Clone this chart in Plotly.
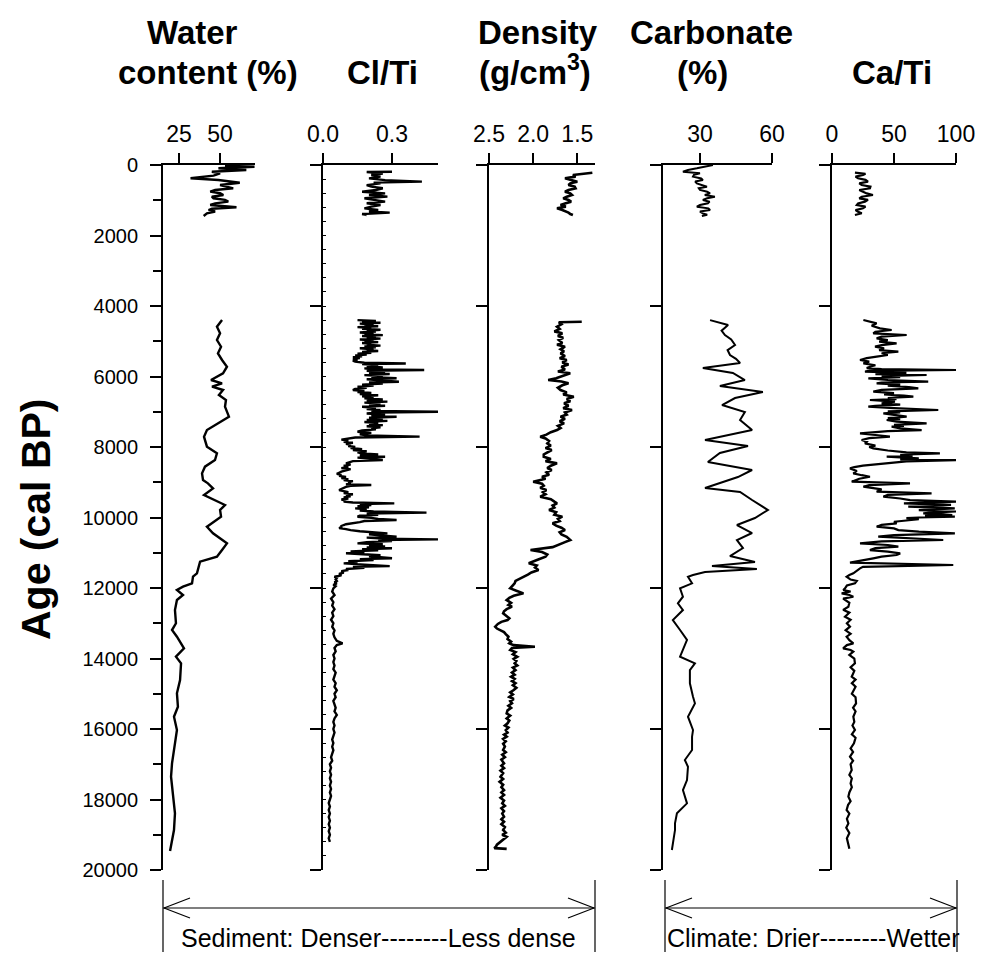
import plotly.graph_objects as go

W, H = 981, 954
FONT = "Liberation Sans, Arial, sans-serif"

# ---------------- data (age in cal BP, proxy value) ----------------
water_top_age = [20, 50, 94, 142, 190, 235, 300, 377, 426, 502, 567, 620, 661, 710, 757,
                 800, 851, 900, 945, 990, 1040, 1090, 1135, 1200, 1240, 1277, 1320, 1370, 1447]
water_top_val = [53, 71, 49, 66, 45, 50, 46, 32, 49, 62, 50, 55, 58, 47, 44,
                 50, 52, 45, 46, 53, 55, 47, 44, 60, 45, 43, 47, 42, 40]
water_age = [4397, 4587, 4775, 4965, 5155, 5343, 5532, 5722, 5910, 6100, 6194, 6290, 6383,
             6525, 6667, 6857, 7140, 7329, 7518, 7708, 7991, 8180, 8369, 8558, 8748, 8937,
             9031, 9173, 9268, 9362, 9646, 9788, 9977, 10261, 10449, 10733, 10922, 11112,
             11254, 11490, 11584, 11679, 11868, 11963, 12057, 12199, 12341, 12625, 13002,
             13192, 13382, 13712, 13949, 14137, 14611, 14988, 15368, 15651, 16029, 16407,
             16974, 17354, 17921, 18392, 18866, 19462]
water_val = [51.2, 48.1, 50.0, 48.1, 50.6, 48.7, 51.2, 54.2, 51.8, 44.5, 51.2, 45.1, 51.8,
             49.3, 53.6, 53.0, 55.4, 48.7, 42.0, 40.2, 42.0, 48.1, 46.9, 40.8, 39.0, 39.6,
             42.6, 45.7, 42.6, 40.2, 53.0, 50.0, 50.6, 42.0, 45.7, 54.2, 51.2, 48.1,
             37.8, 36.5, 35.9, 33.5, 32.9, 27.4, 23.7, 27.4, 23.7, 22.5, 23.1,
             20.7, 23.7, 28.0, 23.1, 26.2, 25.6, 23.7, 24.3, 21.9, 23.7, 22.5,
             20.7, 20.1, 21.3, 22.5, 21.9, 19.5]

clti_top_age = [190, 200, 240, 284, 330, 378, 430, 473, 500, 520, 570, 615, 660, 709, 760,
                804, 850, 898, 945, 993, 1040, 1087, 1135, 1182, 1230, 1277, 1320, 1352, 1390, 1419]
clti_top_val = [0.30, 0.19, 0.26, 0.21, 0.25, 0.20, 0.27, 0.43, 0.22, 0.25, 0.19, 0.21, 0.26, 0.23, 0.17,
                0.27, 0.20, 0.28, 0.18, 0.22, 0.27, 0.19, 0.25, 0.21, 0.18, 0.24, 0.20, 0.29, 0.17, 0.19]
clti_age = [
    4400, 4425, 4450, 4475, 4500, 4525, 4550, 4575, 4600, 4625, 4650, 4675, 4700, 4725, 4750,
    4775, 4800, 4825, 4850, 4875, 4900, 4925, 4950, 4975, 5000, 5025, 5050, 5075, 5100, 5125,
    5150, 5175, 5200, 5225, 5250, 5275, 5300, 5325, 5350, 5375, 5400, 5425, 5450, 5475, 5500,
    5525, 5550, 5580, 5610, 5630, 5650, 5680, 5710, 5740, 5770, 5800, 5816, 5840, 5870, 5900,
    5930, 5960, 5990, 6020, 6050, 6080, 6110, 6147, 6170, 6200, 6230, 6260, 6290, 6320, 6350,
    6383, 6410, 6440, 6470, 6500, 6530, 6560, 6590, 6620, 6650, 6680, 6714, 6740, 6770, 6800,
    6830, 6860, 6890, 6920, 6950, 6975, 6998, 7020, 7050, 7080, 7110, 7140, 7170, 7200, 7230,
    7260, 7290, 7320, 7350, 7380, 7410, 7440, 7470, 7500, 7530, 7566, 7600, 7640, 7670, 7707,
    7730, 7760, 7790, 7820, 7850, 7880, 7910, 7940, 7970, 8000, 8030, 8060, 8090, 8120, 8150,
    8180, 8210, 8240, 8275, 8300, 8330, 8369, 8400, 8430, 8463, 8500, 8530, 8560, 8600, 8630,
    8660, 8700, 8730, 8760, 8790, 8820, 8850, 8880, 8910, 8940, 8970, 9000, 9031, 9060, 9080,
    9100, 9130, 9160, 9190, 9220, 9250, 9280, 9310, 9340, 9370, 9400, 9430, 9460, 9490, 9520,
    9550, 9575, 9600, 9620, 9650, 9680, 9710, 9740, 9770, 9800, 9830, 9863, 9890, 9920, 9950,
    9977, 10010, 10040, 10071, 10100, 10130, 10160, 10190, 10213, 10240, 10270, 10300, 10330,
    10360, 10390, 10420, 10450, 10480, 10510, 10545, 10570, 10600, 10620, 10640, 10670, 10700,
    10733, 10760, 10790, 10820, 10850, 10874, 10900, 10930, 10960, 10990, 11016, 11040, 11070,
    11100, 11130, 11158, 11180, 11210, 11240, 11270, 11300, 11320, 11350, 11380, 11400, 11430,
    11460, 11490, 11520, 11560, 11600, 11640, 11680, 11720, 11760, 11800, 11840, 11868, 11910,
    11950, 12010, 12100, 12200, 12300, 12400, 12500, 12600, 12700, 12800, 12900, 13000, 13100,
    13200, 13300, 13400, 13500, 13570, 13620, 13700, 13800, 13900, 14000, 14100, 14200, 14300,
    14400, 14500, 14600, 14700, 14800, 14900, 15000, 15100, 15200, 15300, 15400, 15500, 15600,
    15700, 15800, 15900, 16000, 16100, 16200, 16300, 16400, 16500, 16600, 16700, 16800, 16900,
    17000, 17100, 17200, 17300, 17400, 17500, 17600, 17700, 17800, 17900, 18000, 18100, 18200,
    18300, 18400, 18500, 18600, 18700, 18800, 18900, 19000, 19100, 19200, 19300, 19400]
clti_val = [
    0.15, 0.23, 0.17, 0.25, 0.16, 0.22, 0.18, 0.24, 0.15, 0.21, 0.17, 0.25, 0.19, 0.23, 0.16,
    0.22, 0.18, 0.26, 0.17, 0.23, 0.19, 0.25, 0.16, 0.22, 0.18, 0.24, 0.17, 0.21, 0.19, 0.25,
    0.18, 0.23, 0.16, 0.22, 0.19, 0.24, 0.17, 0.21, 0.15, 0.19, 0.14, 0.17, 0.13, 0.16, 0.13,
    0.15, 0.13, 0.14, 0.18, 0.36, 0.17, 0.24, 0.19, 0.26, 0.18, 0.22, 0.44, 0.19, 0.27, 0.20,
    0.29, 0.18, 0.26, 0.21, 0.32, 0.19, 0.25, 0.33, 0.20, 0.26, 0.17, 0.22, 0.15, 0.19, 0.14,
    0.13, 0.18, 0.15, 0.21, 0.16, 0.24, 0.17, 0.22, 0.18, 0.26, 0.19, 0.28, 0.18, 0.25, 0.20,
    0.27, 0.17, 0.23, 0.19, 0.25, 0.21, 0.50, 0.24, 0.19, 0.27, 0.21, 0.32, 0.20, 0.26, 0.19,
    0.28, 0.18, 0.24, 0.20, 0.26, 0.19, 0.25, 0.21, 0.23, 0.17, 0.15, 0.21, 0.16, 0.19, 0.42,
    0.14, 0.10, 0.08, 0.11, 0.09, 0.13, 0.10, 0.12, 0.11, 0.14, 0.12, 0.17, 0.13, 0.19, 0.15,
    0.17, 0.24, 0.16, 0.27, 0.15, 0.20, 0.26, 0.13, 0.11, 0.10, 0.12, 0.09, 0.11, 0.08, 0.12,
    0.10, 0.08, 0.07, 0.06, 0.08, 0.07, 0.10, 0.08, 0.11, 0.09, 0.13, 0.11, 0.12, 0.10, 0.21,
    0.12, 0.10, 0.09, 0.08, 0.07, 0.09, 0.11, 0.09, 0.13, 0.10, 0.12, 0.09, 0.11, 0.08, 0.10,
    0.09, 0.13, 0.31, 0.16, 0.21, 0.15, 0.20, 0.14, 0.19, 0.16, 0.22, 0.45, 0.19, 0.24, 0.16,
    0.15, 0.21, 0.24, 0.32, 0.18, 0.16, 0.12, 0.10, 0.09, 0.08, 0.08, 0.07, 0.10,
    0.12, 0.16, 0.22, 0.28, 0.20, 0.26, 0.32, 0.19, 0.26, 0.50, 0.24, 0.30, 0.19,
    0.15, 0.26, 0.20, 0.27, 0.19, 0.30, 0.17, 0.24, 0.12, 0.18, 0.10, 0.17, 0.25,
    0.20, 0.28, 0.30, 0.16, 0.22, 0.11, 0.15, 0.09, 0.14, 0.22, 0.29, 0.13, 0.18,
    0.10, 0.11, 0.08, 0.09, 0.07, 0.08, 0.05, 0.06, 0.055, 0.06, 0.05, 0.06, 0.045,
    0.055, 0.045, 0.04, 0.05, 0.035, 0.045, 0.04, 0.05, 0.04, 0.045, 0.035, 0.045, 0.04,
    0.05, 0.045, 0.05, 0.06, 0.085, 0.06, 0.05, 0.055, 0.045, 0.05, 0.045, 0.05, 0.045,
    0.055, 0.05, 0.045, 0.055, 0.05, 0.06, 0.05, 0.055, 0.045, 0.05, 0.055, 0.05, 0.06,
    0.05, 0.045, 0.05, 0.045, 0.05, 0.045, 0.04, 0.045, 0.04, 0.045, 0.04, 0.035, 0.04,
    0.03, 0.035, 0.03, 0.035, 0.03, 0.035, 0.03, 0.035, 0.03, 0.035, 0.03, 0.025, 0.03,
    0.025, 0.03, 0.025, 0.03, 0.025, 0.03, 0.025, 0.03, 0.025, 0.03]

dens_top_age = [218, 260, 284, 330, 378, 430, 473, 520, 567, 615, 662, 710, 757, 805, 851,
                900, 946, 990, 1040, 1090, 1135, 1180, 1229, 1277, 1320, 1352, 1390, 1419]
dens_top_val = [1.33, 1.46, 1.55, 1.52, 1.64, 1.56, 1.50, 1.58, 1.60, 1.53, 1.52, 1.60, 1.64, 1.58, 1.56,
                1.62, 1.66, 1.60, 1.57, 1.64, 1.69, 1.63, 1.73, 1.67, 1.62, 1.60, 1.58, 1.55]
dens_age = [4445, 4460, 4520, 4587, 4650, 4720, 4776, 4850, 4900, 4965, 5050, 5100, 5154, 5230,
            5290, 5343, 5420, 5480, 5532, 5600, 5660, 5721, 5800, 5860, 5910, 5980, 6050, 6100,
            6140, 6193, 6250, 6320, 6383, 6450, 6510, 6572, 6640, 6700, 6761, 6830, 6900, 6951,
            7020, 7080, 7140, 7200, 7270, 7329, 7400, 7460, 7518, 7580, 7650, 7707, 7760, 7830,
            7896, 7960, 8030, 8085, 8150, 8210, 8275, 8340, 8400, 8464, 8530, 8600, 8653, 8720,
            8790, 8842, 8900, 8950, 8984, 9040, 9100, 9160, 9220, 9280, 9340, 9411, 9480, 9550,
            9599, 9660, 9720, 9788, 9850, 9920, 9977, 10040, 10100, 10166, 10230, 10290, 10355,
            10420, 10480, 10550, 10639, 10700, 10781, 10840, 10922, 10980, 11050, 11112, 11200,
            11300, 11360, 11420, 11490, 11560, 11620, 11679, 11750, 11800, 11868, 11940, 12010,
            12080, 12152, 12220, 12280, 12341, 12420, 12480, 12530, 12600, 12660, 12719, 12800,
            12860, 12908, 12960, 13020, 13098, 13150, 13192, 13250, 13310, 13382, 13450, 13520,
            13570, 13620, 13665, 13700, 13759, 13820, 13880, 13949, 14010, 14070, 14137, 14200,
            14260, 14330, 14400, 14460, 14517, 14580, 14640, 14700, 14760, 14830, 14894, 14960,
            15020, 15090, 15150, 15210, 15272, 15340, 15400, 15470, 15556, 15620, 15700, 15760,
            15839, 15900, 15960, 16030, 16100, 16160, 16219, 16280, 16350, 16420, 16500, 16596,
            16660, 16730, 16800, 16870, 16974, 17040, 17110, 17180, 17250, 17354, 17420, 17500,
            17580, 17650, 17732, 17800, 17870, 17950, 18030, 18109, 18180, 18250, 18330, 18400,
            18488, 18560, 18630, 18700, 18780, 18866, 18940, 19000, 19060, 19120, 19200, 19280,
            19330, 19380, 19400]
dens_val = [1.45, 1.71, 1.68, 1.73, 1.70, 1.76, 1.67, 1.72, 1.66, 1.71, 1.67, 1.73, 1.64, 1.69,
            1.65, 1.69, 1.64, 1.70, 1.62, 1.67, 1.60, 1.68, 1.64, 1.72, 1.58, 1.66, 1.74, 1.83,
            1.68, 1.60, 1.67, 1.72, 1.69, 1.62, 1.66, 1.54, 1.62, 1.58, 1.65, 1.60, 1.66, 1.56,
            1.64, 1.62, 1.69, 1.64, 1.70, 1.65, 1.72, 1.69, 1.73, 1.80, 1.85, 1.92, 1.86, 1.82,
            1.84, 1.80, 1.86, 1.79, 1.84, 1.88, 1.88, 1.80, 1.86, 1.73, 1.80, 1.84, 1.79, 1.85,
            1.82, 1.90, 1.86, 1.94, 2.00, 1.90, 1.88, 1.92, 1.85, 1.89, 1.86, 1.92, 1.80, 1.76,
            1.73, 1.78, 1.76, 1.82, 1.74, 1.76, 1.67, 1.72, 1.70, 1.78, 1.74, 1.68, 1.64,
            1.70, 1.68, 1.62, 1.58, 1.64, 1.71, 1.78, 2.03, 1.90, 1.84, 1.86, 1.95,
            2.05, 1.96, 1.98, 1.94, 2.02, 2.06, 2.11, 2.16, 2.20, 2.21, 2.24, 2.26,
            2.19, 2.11, 2.22, 2.27, 2.30, 2.25, 2.28, 2.24, 2.30, 2.33, 2.34, 2.30,
            2.27, 2.29, 2.36, 2.40, 2.43, 2.41, 2.38, 2.33, 2.31, 2.28, 2.29, 2.25,
            2.27, 2.22, 1.98, 2.24, 2.26, 2.20, 2.23, 2.18, 2.22, 2.19, 2.21, 2.18,
            2.23, 2.20, 2.24, 2.21, 2.25, 2.21, 2.24, 2.20, 2.23, 2.19, 2.22, 2.26,
            2.23, 2.27, 2.22, 2.26, 2.24, 2.28, 2.25, 2.29, 2.30, 2.26, 2.30, 2.27,
            2.29, 2.32, 2.28, 2.31, 2.29, 2.33, 2.30, 2.34, 2.31, 2.34, 2.32, 2.34,
            2.31, 2.35, 2.32, 2.36, 2.33, 2.36, 2.33, 2.37, 2.34, 2.37, 2.34, 2.38,
            2.34, 2.36, 2.33, 2.36, 2.33, 2.37, 2.33, 2.35, 2.32, 2.36, 2.33, 2.35,
            2.33, 2.36, 2.33, 2.36, 2.32, 2.34, 2.31, 2.35, 2.30, 2.33, 2.37, 2.41,
            2.42, 2.44, 2.30]

carb_top_age = [0, 50, 95, 140, 189, 236, 280, 331, 380, 426, 470, 520, 570, 615, 660, 709,
                760, 804, 850, 898, 945, 993, 1040, 1087, 1135, 1182, 1230, 1277, 1320, 1371, 1410, 1447]
carb_top_val = [35.4, 31.0, 28.7, 25.0, 22.9, 30.0, 27.5, 27.1, 30.5, 31.2, 28.0, 28.7, 31.5, 32.9, 29.5, 30.0,
                33.0, 34.2, 32.0, 36.2, 33.0, 31.2, 34.0, 33.3, 30.0, 28.7, 33.5, 34.2, 30.0, 31.2, 33.0, 30.8]
carb_age = [4400, 4539, 4700, 4823, 4950, 5107, 5250, 5390, 5500, 5617, 5759, 5901, 6100, 6270,
            6440, 6610, 6809, 7007, 7234, 7518, 7802, 7972, 8171, 8426, 8653, 8852, 9164, 9277,
            9504, 9788, 10015, 10214, 10440, 10639, 10866, 11093, 11263, 11376, 11461, 11546,
            11631, 11679, 11868, 12010, 12247, 12435, 12625, 12908, 13192, 13475, 13949, 14137,
            14327, 14704, 15084, 15272, 15651, 16029, 16219, 16596, 16880, 17070, 17448, 17732,
            18109, 18392, 18676, 18866, 19433]
carb_val = [34.2, 41.7, 39.0, 40.4, 43.0, 44.6, 41.5, 42.5, 45.0, 46.7, 31.2, 43.7, 48.7, 38.3,
            56.2, 44.6, 39.2, 48.7, 46.7, 51.7, 32.1, 50.0, 38.3, 33.3, 51.7, 45.8, 32.1, 46.7,
            51.7, 58.3, 52.9, 45.4, 51.7, 45.4, 47.9, 42.5, 52.9, 35.0, 53.7, 32.1,
            27.1, 25.0, 26.7, 21.7, 22.9, 20.8, 22.9, 18.7, 21.7, 24.6, 21.7, 27.9,
            25.8, 25.8, 27.1, 27.9, 25.0, 27.1, 26.7, 26.7, 23.7, 25.0, 24.6, 22.9,
            24.6, 20.4, 19.6, 19.6, 18.3]

cati_top_age = [218, 250, 284, 330, 378, 420, 473, 520, 567, 615, 662, 710, 757, 805, 851,
                900, 946, 990, 1040, 1090, 1135, 1180, 1229, 1280, 1324, 1370, 1419]
cati_top_val = [18.5, 27, 25, 19, 21, 27, 29, 22, 24, 31, 30.6, 22, 25, 28, 33,
                24, 22, 29, 26.6, 21, 20, 27, 25, 19, 21, 24, 18.5]
cati_age = [
    4398, 4440, 4492, 4560, 4634, 4681, 4730, 4776, 4823, 4870, 4918, 4970, 5010, 5060, 5110,
    5154, 5200, 5250, 5296, 5340, 5390, 5438, 5480, 5533, 5580, 5627, 5680, 5722, 5760, 5790,
    5816, 5840, 5864, 5900, 5930, 5958, 5990, 6020, 6053, 6100, 6147, 6170, 6194, 6230, 6260,
    6300, 6336, 6380, 6431, 6470, 6510, 6540, 6573, 6610, 6640, 6667, 6715, 6760, 6800, 6830,
    6857, 6900, 6951, 6990, 7020, 7046, 7090, 7140, 7180, 7210, 7235, 7280, 7329, 7370, 7400,
    7424, 7470, 7519, 7550, 7580, 7613, 7660, 7708, 7750, 7802, 7850, 7897, 7960, 8000, 8039,
    8100, 8150, 8181, 8220, 8250, 8275, 8320, 8350, 8370, 8410, 8440, 8464, 8530, 8570, 8606,
    8680, 8748, 8800, 8843, 8900, 8950, 8984, 9032, 9080, 9126, 9200, 9268, 9315, 9360, 9410,
    9460, 9505, 9552, 9600, 9640, 9670, 9694, 9720, 9740, 9788, 9810, 9830, 9860, 9883, 9910,
    9930, 9955, 9977, 10000, 10020, 10050, 10072, 10120, 10167, 10210, 10261, 10310, 10356,
    10400, 10450, 10500, 10545, 10590, 10639, 10680, 10734, 10780, 10828, 10870, 10923, 10970,
    11020, 11065, 11110, 11159, 11220, 11282, 11348, 11400, 11443, 11510, 11585, 11630, 11680,
    11760, 11800, 11869, 11930, 12011, 12057, 12100, 12152, 12200, 12247, 12300, 12341, 12420,
    12530, 12620, 12700, 12814, 12900, 13000, 13098, 13200, 13300, 13381, 13480, 13570, 13620,
    13712, 13760, 13807, 13900, 14000, 14138, 14250, 14350, 14516, 14600, 14700, 14800, 14894,
    15000, 15100, 15273, 15400, 15500, 15651, 15800, 15900, 16029, 16150, 16250, 16408, 16550,
    16650, 16786, 16900, 17000, 17164, 17300, 17400, 17542, 17650, 17800, 17921, 18050, 18150,
    18299, 18400, 18550, 18677, 18800, 18950, 19100, 19250, 19400]
cati_val = [
    25.3, 30, 36.0, 32, 38.7, 48.1, 35, 33.3, 60.2, 40, 36.0, 45, 38, 52.1, 40,
    34.7, 42, 38, 53.5, 40, 45, 36.0, 28, 22.6, 30, 25.3, 35, 30.6, 28, 40,
    100, 30, 26.6, 60, 35, 76.3, 40, 55, 29.3, 45, 77.6, 40, 36.0, 55, 45,
    62, 69.6, 40, 33.3, 50, 42, 58, 65.6, 45, 52, 30.6, 50.8, 40, 55, 35,
    29.3, 50, 85.7, 45, 55, 41.4, 50, 60.2, 45, 55, 44.1, 52, 76.3, 50, 58,
    48.1, 55, 72.3, 45, 30, 22.6, 35, 46.7, 30, 23.9, 28, 26.6, 35, 30, 33.3,
    45, 60, 87.0, 55, 65, 44.1, 70, 55, 100, 60, 50, 45.4, 25, 18, 14.5,
    20, 17.2, 24, 30.6, 22, 18, 15.9, 62.9, 30, 25.3, 40, 36.0, 80.3, 45, 41.4,
    55, 62.9, 100, 58, 96, 65, 61.5, 85, 99, 70, 95, 100, 80, 73.6, 90,
    97, 75, 99.1, 70, 60, 70, 62.9, 50, 52.1, 40, 36.0, 50, 53.5,
    70, 99.1, 50, 37.3, 60, 89.7, 40, 22.6, 45, 53.5, 35, 30.6, 45,
    55, 52.1, 40, 33.3, 25, 14.5, 97.8, 25, 22.6, 20, 17.2, 14, 11.8,
    15, 20, 18.5, 12, 10.5, 9.1, 15, 7.8, 14, 17.2, 9, 10.5, 14,
    13.2, 9, 14, 10.5, 15, 12, 14.5, 11, 15, 11.8, 14, 17.2, 12,
    9.0, 15, 17.2, 14, 18, 18.5, 15, 18, 15.9, 19, 16, 19, 17.7,
    16, 19, 19.4, 17, 19, 17.2, 18, 16.5, 18.5, 16, 19, 17.7, 15,
    17, 14.5, 17, 15, 15.9, 14, 16, 15.0, 16, 14, 13.2, 15, 13,
    11.8, 14, 12, 13.2, 11.5, 14, 12, 13, 14]


def join(*segments):
    """Concatenate depth segments, leaving a gap (None) between them."""
    out = []
    for i, s in enumerate(segments):
        if i:
            out.append(None)
        out.extend(s)
    return out


panels = [
    dict(x=join(water_top_val, water_val), y=join(water_top_age, water_age), lw=2.4,
         px=(163, 255), rng=[15.2, 71.3], ticks=[25, 50], labels=["25", "50"]),
    dict(x=join(clti_top_val, clti_val), y=join(clti_top_age, clti_age), lw=2.4,
         px=(323, 438), rng=[0, 0.5], ticks=[0, 0.3], labels=["0.0", "0.3"]),
    dict(x=join(dens_top_val, dens_val), y=join(dens_top_age, dens_age), lw=2.6,
         px=(489, 595), rng=[2.5, 1.3], ticks=[2.5, 2.0, 1.5], labels=["2.5", "2.0", "1.5"]),
    dict(x=join(carb_top_val, carb_val), y=join(carb_top_age, carb_age), lw=2.0,
         px=(663, 772), rng=[14.6, 60], ticks=[30, 60], labels=["30", "60"]),
    dict(x=join(cati_top_val, cati_val), y=join(cati_top_age, cati_age), lw=2.2,
         px=(832, 956), rng=[0, 100], ticks=[0, 50, 100], labels=["0", "50", "100"]),
]

Y_TOP, Y_BOT = 165, 870
ydom = [1 - Y_BOT / H, 1 - Y_TOP / H]

fig = go.Figure()
layout = {}
for i, p in enumerate(panels, start=1):
    xs = "" if i == 1 else str(i)
    xb = str(i + 5)
    ys = "" if i == 1 else str(i)
    fig.add_trace(go.Scatter(
        x=p["x"], y=p["y"], mode="lines", connectgaps=False,
        line=dict(color="black", width=p["lw"]), xaxis="x" + xs, yaxis="y" + ys,
        showlegend=False, hoverinfo="skip"))
    common = dict(range=p["rng"], showgrid=False, zeroline=False, showline=True,
                  linecolor="black", linewidth=1.8, tickcolor="black", tickwidth=1.6,
                  ticklen=10, tickmode="array", tickvals=p["ticks"], fixedrange=True,
                  automargin=False)
    layout["xaxis" + xs] = dict(common, domain=[p["px"][0] / W, p["px"][1] / W],
                                anchor="y" + ys, side="top", ticks="outside",
                                ticktext=p["labels"], ticklabelstandoff=2,
                                tickfont=dict(family=FONT, size=23, color="black"))
    layout["xaxis" + xb] = dict(common, overlaying="x" + xs, anchor="y" + ys,
                                side="bottom", ticks="inside", showticklabels=False)
    yax = dict(domain=ydom, range=[20000, 0], anchor="x" + xs, showgrid=False,
               zeroline=False, showline=True, linecolor="black", linewidth=1.8,
               ticks="outside", ticklen=11, tickwidth=1.6, tickcolor="black",
               fixedrange=True, automargin=False)
    if i == 1:
        yax.update(tickmode="array", tickvals=list(range(0, 20001, 2000)),
                   ticktext=[str(v) for v in range(0, 20001, 2000)],
                   tickfont=dict(family=FONT, size=20, color="black"),
                   ticklabelstandoff=8,
                   minor=dict(tickmode="array", tickvals=list(range(1000, 20000, 2000)),
                              ticks="outside", ticklen=8, tickwidth=1.6, tickcolor="black"))
    else:
        yax.update(tickmode="array", tickvals=list(range(0, 20001, 4000)),
                   showticklabels=False)
        if i == 2:
            yax["minor"] = dict(tickmode="array", tickvals=list(range(400, 20000, 400)),
                                ticks="inside", ticklen=3, tickwidth=1, tickcolor="black")
    layout["yaxis" + ys] = yax


def P(x, y):
    return x / W, 1 - y / H


annotations = []


def text(s, x, y, size, bold=False, angle=0):
    ax, ay = P(x, y)
    annotations.append(dict(text=f"<b>{s}</b>" if bold else s, x=ax, y=ay,
                            xref="paper", yref="paper", showarrow=False,
                            xanchor="center", yanchor="middle", textangle=angle,
                            font=dict(family=FONT, size=size, color="black")))


# panel headings
text("Water", 192, 32, 33, True)
text("content (%)", 208, 73, 33, True)
text("Cl/Ti", 382, 73, 33, True)
text("Density", 538, 32, 33, True)
text("(g/cm<sup>3</sup>)", 535, 70, 33, True)
text("Carbonate", 711, 32, 33, True)
text("(%)", 702, 73, 33, True)
text("Ca/Ti", 892, 73, 33, True)
text("Age (cal BP)", 36, 519, 41, True, angle=-90)

# interpretation brackets below the panels
text("Sediment: Denser--------Less dense", 378, 938, 25)
text("Climate: Drier--------Wetter", 813, 938, 25)

shapes = []
LINE = dict(color="black", width=1.2)


def seg_line(x0, y0, x1, y1):
    a, b = P(x0, y0)
    c, d = P(x1, y1)
    shapes.append(dict(type="line", xref="paper", yref="paper", x0=a, y0=b, x1=c, y1=d, line=LINE))


def bracket(x0, x1, ya=908):
    seg_line(x0, 880, x0, 952)
    seg_line(x1, 880, x1, 952)
    seg_line(x0, ya, x1, ya)
    seg_line(x0 + 27, ya - 10, x0 + 1, ya)
    seg_line(x0 + 1, ya, x0 + 27, ya + 10)
    seg_line(x1 - 27, ya - 10, x1 - 1, ya)
    seg_line(x1 - 1, ya, x1 - 27, ya + 10)


bracket(163, 595)
bracket(665, 957)

fig.update_layout(width=W, height=H,
                  margin=dict(l=0, r=0, t=0, b=0, pad=0, autoexpand=False),
                  paper_bgcolor="white", plot_bgcolor="white",
                  annotations=annotations, shapes=shapes, **layout)

fig.write_html("out.html")
